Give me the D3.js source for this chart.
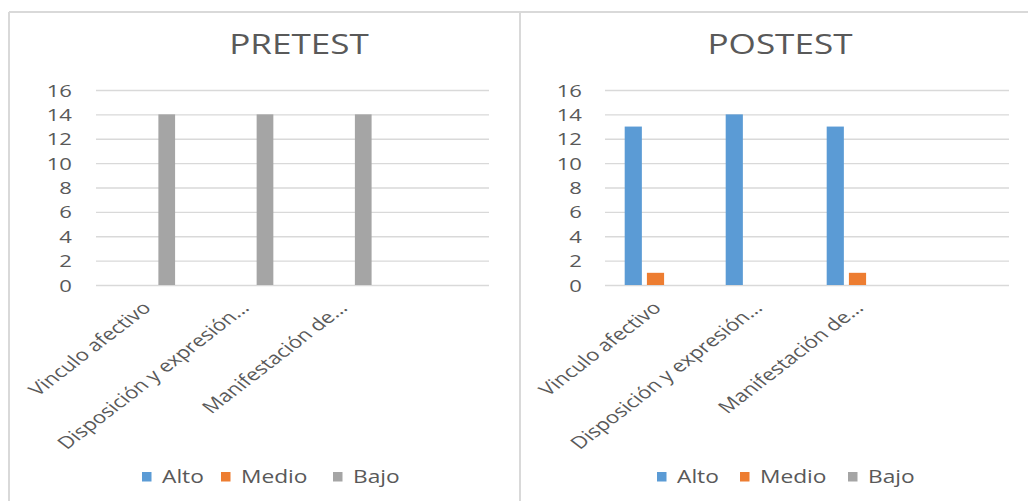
<!DOCTYPE html>
<html>
<head>
<meta charset="utf-8">
<script src="https://cdn.jsdelivr.net/npm/d3@7"></script>
<style>
  html, body { margin: 0; padding: 0; background: #fff; }
  svg { display: block; }
  text { font-family: "Open Sans", "Liberation Sans", sans-serif; fill: #595959; }
</style>
</head>
<body>
<svg id="chart" width="1028" height="501"></svg>
<script>
// Dimensions evaluated in each chart
const categories = ["Vinculo afectivo", "Disposición y expresión...", "Manifestación de...", ""];
const seriesNames = ["Alto", "Medio", "Bajo"];
const seriesColors = ["#5b9bd5", "#ed7d31", "#a5a5a5"];
const yTicks = [0, 2, 4, 6, 8, 10, 12, 14, 16];

// PRETEST counts per level
const pretestAlto  = [0, 0, 0, null];
const pretestMedio = [0, 0, 0, null];
const pretestBajo  = [14, 14, 14, null];

// POSTEST counts per level
const postestAlto  = [13, 14, 13, null];
const postestMedio = [1, 0, 1, null];
const postestBajo  = [0, 0, 0, null];

const SX = 1.3;            // horizontal stretch applied to text
const svg = d3.select("#chart");

// panel frames
const frame = svg.append("g").attr("stroke", "#d9d9d9").attr("stroke-width", 2).attr("fill", "none");
frame.append("line").attr("x1", 9).attr("x2", 1028).attr("y1", 12).attr("y2", 12);
frame.append("line").attr("x1", 9).attr("x2", 9).attr("y1", 12).attr("y2", 501);
frame.append("line").attr("x1", 520).attr("x2", 520).attr("y1", 12).attr("y2", 501);

function stretchedText(g, x, y, str, size, anchor, extra) {
  return g.append("text")
    .attr("transform", `translate(${x},${y}) scale(${SX},1)` + (extra || ""))
    .attr("text-anchor", anchor)
    .attr("font-size", size)
    .text(str);
}

function drawPanel(cfg) {
  const g = svg.append("g");
  const x0 = d3.scaleBand().domain(categories).range([cfg.left, cfg.right]);
  const half = x0.bandwidth() * 0.33;
  const x1 = d3.scaleBand().domain(seriesNames).range([-half, half])
    .paddingInner(0.227).paddingOuter(0.1135);
  const y = d3.scaleLinear().domain([0, 16]).range([285, 90]);

  // title
  stretchedText(g, cfg.titleX, 54, cfg.title, 27, "middle");

  // gridlines + tick labels
  const axis = g.append("g")
    .attr("transform", `translate(${cfg.left},0)`)
    .call(d3.axisLeft(y).tickValues(yTicks).tickSize(-(cfg.right - cfg.left)).tickPadding(0));
  axis.select(".domain").remove();
  axis.selectAll(".tick line").attr("stroke", "#d9d9d9").attr("stroke-width", 1.3);
  axis.selectAll(".tick text")
    .attr("x", null).attr("dy", null)
    .attr("transform", `translate(${cfg.tickRight - cfg.left},6) scale(${SX},1)`)
    .attr("text-anchor", "end")
    .attr("font-size", 17)
    .attr("font-family", null)
    .style("fill", "#595959");

  // bars
  const rows = [];
  cfg.series.forEach((vals, si) => {
    vals.forEach((v, ci) => {
      if (v !== null) rows.push({ cat: categories[ci], s: seriesNames[si], color: seriesColors[si], v });
    });
  });
  g.append("g").selectAll("rect").data(rows).join("rect")
    .attr("x", d => x0(d.cat) + x0.bandwidth() / 2 + x1(d.s))
    .attr("width", x1.bandwidth())
    .attr("y", d => y(d.v))
    .attr("height", d => y(0) - y(d.v))
    .attr("fill", d => d.color);

  // category labels, rotated
  categories.forEach(c => {
    if (!c) return;
    const cx = x0(c) + x0.bandwidth() / 2;
    stretchedText(g, cx + 7, 309, c, 17, "end", " rotate(-45)");
  });

  // legend
  seriesNames.forEach((s, i) => {
    const lx = cfg.legendX[i];
    g.append("rect").attr("x", lx).attr("y", 472).attr("width", 9.5).attr("height", 9.5).attr("fill", seriesColors[i]);
    stretchedText(g, lx + 20, 482.5, s, 17.5, "start");
  });
}

drawPanel({
  title: "PRETEST", titleX: 299, left: 96, right: 489, tickRight: 72,
  series: [pretestAlto, pretestMedio, pretestBajo],
  legendX: [142, 221, 333]
});
drawPanel({
  title: "POSTEST", titleX: 780, left: 605, right: 1009, tickRight: 582,
  series: [postestAlto, postestMedio, postestBajo],
  legendX: [657, 740, 848]
});
</script>
</body>
</html>
